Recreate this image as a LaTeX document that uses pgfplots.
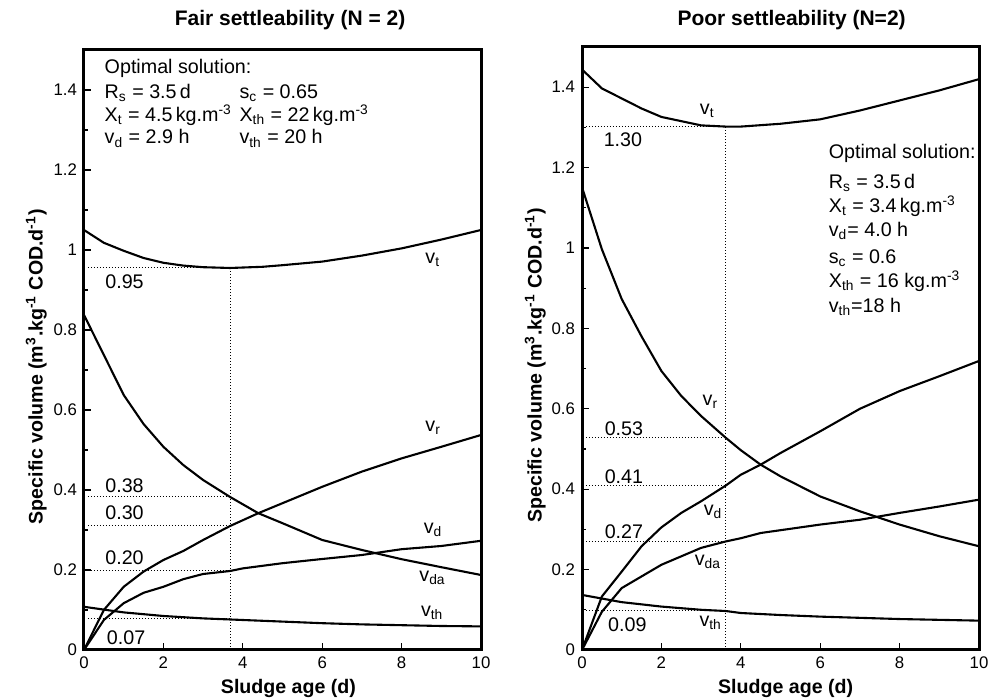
\documentclass[border=0pt]{standalone}
\usepackage{fontspec}
\setmainfont{Liberation Sans}
\usepackage{pgfplots}
\pgfplotsset{compat=1.18}

\newcommand\txt{\fontsize{9.85}{11}\selectfont}

\pgfplotsset{
  panel/.style={
    scale only axis,
    width=198.5pt,
    xmin=0, xmax=10, ymin=0, ymax=1.5,
    xtick={0,2,4,6,8,10},
    ytick={0,0.2,0.4,0.6,0.8,1,1.2,1.4},
    minor y tick num=1,
    tick pos=left,
    tick align=inside,
    major tick length=3.5pt,
    minor tick length=2pt,
    axis line style={line width=1.5pt},
    every tick/.style={black, line width=0.6pt},
    tick label style={font=\fontsize{8.4}{10}\selectfont},
    /pgf/number format/assume math mode=true,
    label style={font=\fontsize{9.8}{11}\selectfont\bfseries},
    every axis title/.style={font=\fontsize{10.5}{12}\selectfont\bfseries, anchor=base},
    xlabel={Sludge age (d)},
    ylabel={Specific volume (m\textsuperscript{3}.kg\textsuperscript{-1} COD.d\textsuperscript{-1})},
    cycle list={black, line width=1.05pt, mark=none\\},
  },
  guide/.style={densely dotted, line width=0.5pt, black},
}

\begin{document}
\begin{tikzpicture}
\path[use as bounding box] (-42pt,-24.5pt) rectangle (453pt,325pt);

% ---- left panel: fair settleability
\begin{axis}[panel,
  at={(0,0)}, anchor=south west,
  height=300pt,
  title={Fair settleability (N = 2)},
  title style={at={(axis description cs:0.519,1.04)}},
  xlabel style={at={(axis description cs:0.515,-0.0722)}, anchor=base},
  ylabel style={at={(axis description cs:-0.104,0.472)}, anchor=base, rotate=0},
]
% v_t
\addplot coordinates {(0,1.05) (0.5,1.018) (1,0.998) (1.5,0.98) (2,0.968) (2.5,0.961)
  (3,0.957) (3.68,0.955) (4.5,0.958) (5,0.962) (6,0.971) (7,0.986) (8,1.004) (9,1.026) (10,1.05)};
% decreasing curve
\addplot coordinates {(0,0.8375) (0.5,0.7375) (1,0.6375) (1.5,0.565) (2,0.508) (2.5,0.4625)
  (3,0.425) (3.68,0.3825) (4.39,0.342) (5,0.317) (6,0.275) (7,0.25) (8,0.227) (9,0.207) (10,0.1875)};
% steep rising curve
\addplot coordinates {(0,0) (0.5,0.1) (1,0.158) (1.5,0.196) (2,0.225) (2.5,0.2475)
  (3,0.275) (3.68,0.31) (4.39,0.342) (5,0.367) (6,0.408) (7,0.446) (8,0.479) (9,0.508) (10,0.5375)};
% moderate rising curve
\addplot coordinates {(0,0) (0.5,0.075) (1,0.117) (1.5,0.143) (2,0.158) (2.5,0.177)
  (3,0.19) (3.68,0.1975) (4,0.204) (5,0.217) (6,0.2275) (7,0.2375) (8,0.252) (9,0.26) (10,0.273)};
% v_th
\addplot coordinates {(0,0.108) (1,0.094) (2,0.085) (3,0.079) (4,0.075) (5,0.071)
  (6,0.067) (7,0.064) (8,0.062) (9,0.06) (10,0.059)};
% guides at the optimum
\addplot[guide] coordinates {(3.68,0) (3.68,0.956)};
\addplot[guide] coordinates {(0.1,0.956) (3.68,0.956)};
\addplot[guide] coordinates {(0.1,0.3825) (3.68,0.3825)};
\addplot[guide] coordinates {(0.1,0.31) (3.68,0.31)};
\addplot[guide] coordinates {(0.1,0.1975) (3.68,0.1975)};
\addplot[guide] coordinates {(0.1,0.078) (3.68,0.078)};

\node[font=\txt, anchor=base west] at (axis cs:0.344,1.44) {Optimal solution:};
\node[font=\txt, anchor=base west] at (axis cs:0.344,1.379) {R\textsubscript{s} = 3.5\,d};
\node[font=\txt, anchor=base west] at (axis cs:0.344,1.321) {X\textsubscript{t} = 4.5\,kg.m\textsuperscript{-3}};
\node[font=\txt, anchor=base west] at (axis cs:0.344,1.265) {v\textsubscript{d} = 2.9 h};
\node[font=\txt, anchor=base west] at (axis cs:3.74,1.379) {s\textsubscript{c} = 0.65};
\node[font=\txt, anchor=base west] at (axis cs:3.74,1.321) {X\textsubscript{th} = 22\,kg.m\textsuperscript{-3}};
\node[font=\txt, anchor=base west] at (axis cs:3.74,1.265) {v\textsubscript{th} = 20 h};

\node[font=\txt, anchor=base west] at (axis cs:0.36,0.904) {0.95};
\node[font=\txt, anchor=base west] at (axis cs:0.36,0.393) {0.38};
\node[font=\txt, anchor=base west] at (axis cs:0.36,0.327) {0.30};
\node[font=\txt, anchor=base west] at (axis cs:0.36,0.214) {0.20};
\node[font=\txt, anchor=base west] at (axis cs:0.4,0.0125) {0.07};

\node[font=\txt, anchor=base west, inner sep=0pt] at (axis cs:8.59,0.967) {v\textsubscript{t}};
\node[font=\txt, anchor=base west, inner sep=0pt] at (axis cs:8.59,0.546) {v\textsubscript{r}};
\node[font=\txt, anchor=base west, inner sep=0pt] at (axis cs:8.55,0.292) {v\textsubscript{d}};
\node[font=\txt, anchor=base west, inner sep=0pt] at (axis cs:8.44,0.172) {v\textsubscript{da}};
\node[font=\txt, anchor=base west, inner sep=0pt] at (axis cs:8.48,0.083) {v\textsubscript{th}};
\end{axis}

% ---- right panel: poor settleability
\begin{axis}[panel,
  at={(249pt,0)}, anchor=south west,
  height=301.5pt,
  title={Poor settleability (N=2)},
  title style={at={(axis description cs:0.528,1.036)}},
  xlabel style={at={(axis description cs:0.513,-0.0727)}, anchor=base},
  ylabel style={at={(axis description cs:-0.1015,0.472)}, anchor=base, rotate=0},
]
\addplot coordinates {(0,1.444) (0.5,1.397) (1,1.372) (1.5,1.347) (2,1.326) (3,1.305)
  (3.62,1.302) (4,1.302) (5,1.309) (6,1.32) (7,1.342) (8,1.367) (9,1.392) (10,1.42)};
\addplot coordinates {(0,1.151) (0.5,0.997) (1,0.873) (1.5,0.78) (2,0.694) (2.5,0.632)
  (3,0.582) (3.62,0.528) (4,0.497) (4.5,0.461) (5,0.432) (6,0.382) (7,0.345) (8,0.312) (9,0.283) (10,0.258)};
\addplot coordinates {(0,0) (0.5,0.133) (1,0.195) (1.5,0.258) (2,0.305) (2.5,0.341)
  (3,0.37) (3.62,0.409) (4,0.436) (4.5,0.461) (5,0.49) (6,0.544) (7,0.6) (8,0.644) (9,0.681) (10,0.719)};
\addplot coordinates {(0,0) (0.5,0.095) (1,0.154) (1.5,0.183) (2,0.212) (2.5,0.233)
  (3,0.254) (3.62,0.27) (4,0.278) (4.5,0.291) (5,0.298) (6,0.312) (7,0.324) (8,0.341) (9,0.357) (10,0.374)};
\addplot coordinates {(0,0.137) (1,0.119) (2,0.108) (3,0.1) (3.62,0.097) (4,0.092)
  (5,0.087) (6,0.083) (7,0.08) (8,0.077) (9,0.075) (10,0.073)};
\addplot[guide] coordinates {(3.62,0) (3.62,1.302)};
\addplot[guide] coordinates {(0.1,1.302) (3.62,1.302)};
\addplot[guide] coordinates {(0.1,0.528) (3.62,0.528)};
\addplot[guide] coordinates {(0.1,0.409) (3.62,0.409)};
\addplot[guide] coordinates {(0.1,0.27) (3.62,0.27)};
\addplot[guide] coordinates {(0.1,0.098) (3.62,0.098)};

\node[font=\txt, anchor=base west] at (axis cs:6.04,1.223) {Optimal solution:};
\node[font=\txt, anchor=base west] at (axis cs:6.04,1.149) {R\textsubscript{s} = 3.5\,d};
\node[font=\txt, anchor=base west] at (axis cs:6.04,1.088) {X\textsubscript{t} = 3.4\,kg.m\textsuperscript{-3}};
\node[font=\txt, anchor=base west] at (axis cs:6.04,1.028) {v\textsubscript{d}= 4.0 h};
\node[font=\txt, anchor=base west] at (axis cs:6.04,0.962) {s\textsubscript{c} = 0.6};
\node[font=\txt, anchor=base west] at (axis cs:6.04,0.902) {X\textsubscript{th} = 16 kg.m\textsuperscript{-3}};
\node[font=\txt, anchor=base west] at (axis cs:6.04,0.840) {v\textsubscript{th}=18 h};

\node[font=\txt, anchor=base west] at (axis cs:0.37,1.252) {1.30};
\node[font=\txt, anchor=base west] at (axis cs:0.395,0.534) {0.53};
\node[font=\txt, anchor=base west] at (axis cs:0.395,0.415) {0.41};
\node[font=\txt, anchor=base west] at (axis cs:0.395,0.277) {0.27};
\node[font=\txt, anchor=base west] at (axis cs:0.48,0.046) {0.09};

\node[font=\txt, anchor=base west, inner sep=0pt] at (axis cs:2.96,1.331) {v\textsubscript{t}};
\node[font=\txt, anchor=base west, inner sep=0pt] at (axis cs:3.03,0.609) {v\textsubscript{r}};
\node[font=\txt, anchor=base west, inner sep=0pt] at (axis cs:3.06,0.335) {v\textsubscript{d}};
\node[font=\txt, anchor=base west, inner sep=0pt] at (axis cs:2.83,0.21) {v\textsubscript{da}};
\node[font=\txt, anchor=base west, inner sep=0pt] at (axis cs:2.95,0.058) {v\textsubscript{th}};
\end{axis}
\end{tikzpicture}
\end{document}
